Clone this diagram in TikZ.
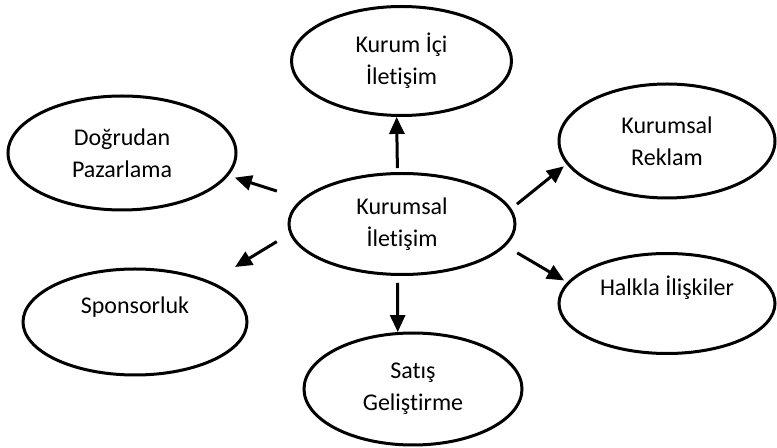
\documentclass[tikz,border=0pt]{standalone}
\usepackage{fontspec}
\setmainfont[Ligatures=NoCommon]{Carlito}
\usetikzlibrary{shapes.geometric}
\usetikzlibrary{arrows.meta}

\begin{document}
\begin{tikzpicture}[x=0.5pt, y=-0.5pt,
    oval/.style={ellipse, draw, line width=1.5pt, inner sep=0pt, align=center,
        font=\fontsize{12}{16}\selectfont},
    upper/.style={text height=9pt, text depth=17pt},
    arr/.style={line width=1.5pt, -{Triangle[length=8.5pt, width=7.5pt]}}]
    \useasboundingbox (0, 0) rectangle (777, 448);

    \draw (402, 224) node[oval, minimum width=113pt, minimum height=50.5pt] (kur) {Kurumsal\\İletişim};
    \draw (401.5, 61) node[oval, minimum width=110pt, minimum height=54.5pt] (ic) {Kurum İçi\\İletişim};
    \draw (122, 153) node[oval, minimum width=114pt, minimum height=57pt] (dog) {Doğrudan\\Pazarlama};
    \draw (135, 322) node[oval, upper, minimum width=112pt, minimum height=53pt] (spon) {Sponsorluk};
    \draw (667, 141) node[oval, minimum width=108pt, minimum height=57pt] (rek) {Kurumsal\\Reklam};
    \draw (667, 303.5) node[oval, upper, minimum width=108pt, minimum height=50pt] (halk) {Halkla İlişkiler};
    \draw (413, 389) node[oval, minimum width=109pt, minimum height=56pt] (sat) {Satış\\Geliştirme};

    \draw[arr, shorten <=2pt] (kur.95) -- (ic.265.5);
    \draw[arr, shorten <=3.5pt] (kur.265) -- (sat.105);
    \draw[arr, shorten <=13pt, shorten >=3.3pt] (kur.166) -- (dog.-12);
    \draw[arr, shorten <=7.5pt, shorten >=14pt] (kur.185) -- (spon.28);
    \draw[arr, shorten <=3.6pt, shorten >=1.7pt] (kur.8) -- (rek.193);
    \draw[arr, shorten <=6.7pt, shorten >=1.8pt] (kur.-12) -- (halk.168);
\end{tikzpicture}
\end{document}
